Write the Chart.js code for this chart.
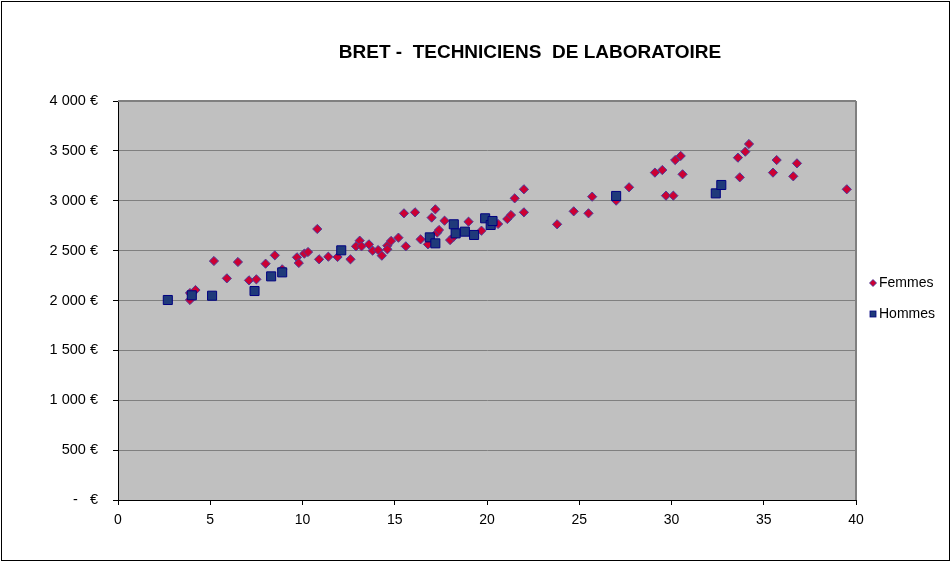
<!DOCTYPE html>
<html>
<head>
<meta charset="utf-8">
<script src="https://cdn.jsdelivr.net/npm/chart.js@4"></script>
<style>
  html, body { margin: 0; padding: 0; background: #fff; }
  #wrap { width: 952px; height: 563px; position: relative; }
</style>
</head>
<body>
<div id="wrap"><canvas id="c" width="952" height="563"></canvas></div>
<script>
const chartTitle = "BRET -  TECHNICIENS  DE LABORATOIRE";
const seriesNames = ["Femmes", "Hommes"];

const femmesX = [3.9, 3.9, 4.2, 5.2, 5.9, 6.5, 7.1, 7.5, 8.0, 8.5, 8.9, 9.7, 9.8, 10.1, 10.3, 10.8, 10.9, 11.4, 11.9, 12.6,
  12.9, 13.1, 13.2, 13.6, 13.8, 14.1, 14.3, 14.6, 14.6, 14.8, 15.2, 15.5, 15.6, 16.1, 16.4, 16.8, 17.0, 17.2, 17.3, 17.4,
  17.7, 18.0, 18.2, 19.0, 19.7, 20.6, 21.1, 21.3, 21.5, 22.0, 22.0, 23.8, 24.7, 25.5, 25.7, 27.0, 27.7, 29.1, 29.5, 29.7,
  30.1, 30.2, 30.5, 30.6, 33.6, 33.7, 34.0, 34.2, 35.5, 35.7, 36.6, 36.8, 39.5];
const femmesY = [2005, 2075, 2105, 2396, 2222, 2386, 2202, 2212, 2369, 2453, 2313, 2433, 2376, 2470, 2486, 2717, 2413, 2439, 2436, 2413,
  2543, 2600, 2543, 2563, 2500, 2506, 2449, 2550, 2513, 2597, 2630, 2874, 2543, 2884, 2613, 2563, 2831, 2914, 2680, 2707,
  2800, 2606, 2640, 2790, 2700, 2767, 2817, 2857, 3024, 3115, 2884, 2764, 2894, 2874, 3041, 3001, 3135, 3282, 3308, 3051,
  3051, 3408, 3449, 3265, 3432, 3235, 3492, 3569, 3282, 3408, 3245, 3375, 3115];

const hommesX = [2.7, 4.0, 5.1, 7.4, 8.3, 8.9, 12.1, 16.9, 17.2, 18.2, 18.3, 18.8, 19.3, 19.9, 20.2, 20.3, 27.0, 32.4, 32.7];
const hommesY = [2005, 2052, 2048, 2095, 2242, 2282, 2503, 2633, 2573, 2764, 2673, 2690, 2657, 2824, 2757, 2797, 3048, 3074, 3158];

const xTicks = [0, 5, 10, 15, 20, 25, 30, 35, 40];
const yTicks = [0, 500, 1000, 1500, 2000, 2500, 3000, 3500, 4000];

const FONT = "'Liberation Sans', Arial, sans-serif";

function fmtEuro(v) {
  if (v === 0) return "-   €";
  const s = String(Math.round(v)).replace(/\B(?=(\d{3})+(?!\d))/g, " ");
  return s + " €";
}

const decor = {
  id: 'decor',
  beforeDraw(chart) {
    const ctx = chart.ctx, a = chart.chartArea;
    ctx.save();
    ctx.fillStyle = '#ffffff';
    ctx.fillRect(0, 0, chart.width, chart.height);
    ctx.fillStyle = '#c0c0c0';
    ctx.fillRect(a.left, a.top, a.right - a.left, a.bottom - a.top);
    ctx.restore();
  },
  afterDraw(chart) {
    const ctx = chart.ctx, a = chart.chartArea;
    ctx.save();
    ctx.strokeStyle = '#808080';
    ctx.lineWidth = 2;
    ctx.beginPath();
    ctx.moveTo(a.right, a.top);
    ctx.lineTo(a.right, a.bottom);
    ctx.moveTo(a.left, a.top);
    ctx.lineTo(a.right, a.top);
    ctx.stroke();
    ctx.strokeStyle = '#000';
    ctx.lineWidth = 1;
    ctx.strokeRect(1.5, 1.5, 948, 559);
    ctx.fillStyle = '#000';
    ctx.font = "bold 19px " + FONT;
    ctx.textAlign = 'center';
    ctx.textBaseline = 'middle';
    ctx.fillText(chartTitle, 530, 53);
    ctx.font = "14px " + FONT;
    ctx.textAlign = 'left';
    ctx.textBaseline = 'middle';
    const lx = 873;
    let ly = 283;
    ctx.fillStyle = '#cc0033';
    ctx.strokeStyle = '#333399';
    ctx.lineWidth = 0.8;
    ctx.beginPath();
    ctx.moveTo(lx, ly - 3.5); ctx.lineTo(lx + 3.5, ly); ctx.lineTo(lx, ly + 3.5); ctx.lineTo(lx - 3.5, ly); ctx.closePath();
    ctx.fill(); ctx.stroke();
    ctx.fillStyle = '#000';
    ctx.fillText(seriesNames[0], 879, ly);
    ly = 314;
    ctx.fillStyle = '#1f3a7a';
    ctx.strokeStyle = '#000080';
    ctx.fillRect(lx - 3, ly - 3, 6, 6);
    ctx.strokeRect(lx - 3, ly - 3, 6, 6);
    ctx.fillStyle = '#000';
    ctx.fillText(seriesNames[1], 879, ly);
    ctx.restore();
  }
};

new Chart(document.getElementById('c'), {
  type: 'scatter',
  data: {
    datasets: [
      {
        label: seriesNames[0],
        data: femmesX.map((x, i) => ({ x: x, y: femmesY[i] })),
        pointStyle: 'rectRot',
        pointRadius: 4.6,
        pointHoverRadius: 4.6,
        backgroundColor: '#cc0033',
        borderColor: '#4b3c9c',
        borderWidth: 1,
        order: 2
      },
      {
        label: seriesNames[1],
        data: hommesX.map((x, i) => ({ x: x, y: hommesY[i] })),
        pointStyle: 'rect',
        pointRadius: 6.4,
        pointHoverRadius: 6.4,
        backgroundColor: '#1f3a7a',
        borderColor: '#000080',
        borderWidth: 1,
        order: 1
      }
    ]
  },
  options: {
    responsive: false,
    animation: false,
    devicePixelRatio: 1,
    layout: { padding: { left: 0, right: 96, top: 101, bottom: 0 } },
    plugins: {
      legend: { display: false },
      title: { display: false },
      tooltip: { enabled: false }
    },
    scales: {
      x: {
        type: 'linear',
        min: 0, max: 40,
        afterBuildTicks(s) { s.ticks = xTicks.map(v => ({ value: v })); },
        afterFit(s) { s.height = 63; },
        grid: { display: true, drawOnChartArea: false, drawTicks: true, tickLength: 5, tickColor: '#000', color: '#000' },
        border: { display: true, color: '#000', width: 1 },
        ticks: { color: '#000', font: { family: FONT, size: 14 }, padding: 7, maxRotation: 0 }
      },
      y: {
        type: 'linear',
        min: 0, max: 4000,
        afterBuildTicks(s) { s.ticks = yTicks.map(v => ({ value: v })); },
        afterFit(s) { s.width = 118; },
        grid: { display: true, drawOnChartArea: true, drawTicks: true, tickLength: 5, tickColor: '#000', color: '#808080' },
        border: { display: true, color: '#000', width: 1 },
        ticks: { color: '#000', font: { family: FONT, size: 14.5 }, padding: 15, callback: v => fmtEuro(v) }
      }
    }
  },
  plugins: [decor]
});
</script>
</body>
</html>
